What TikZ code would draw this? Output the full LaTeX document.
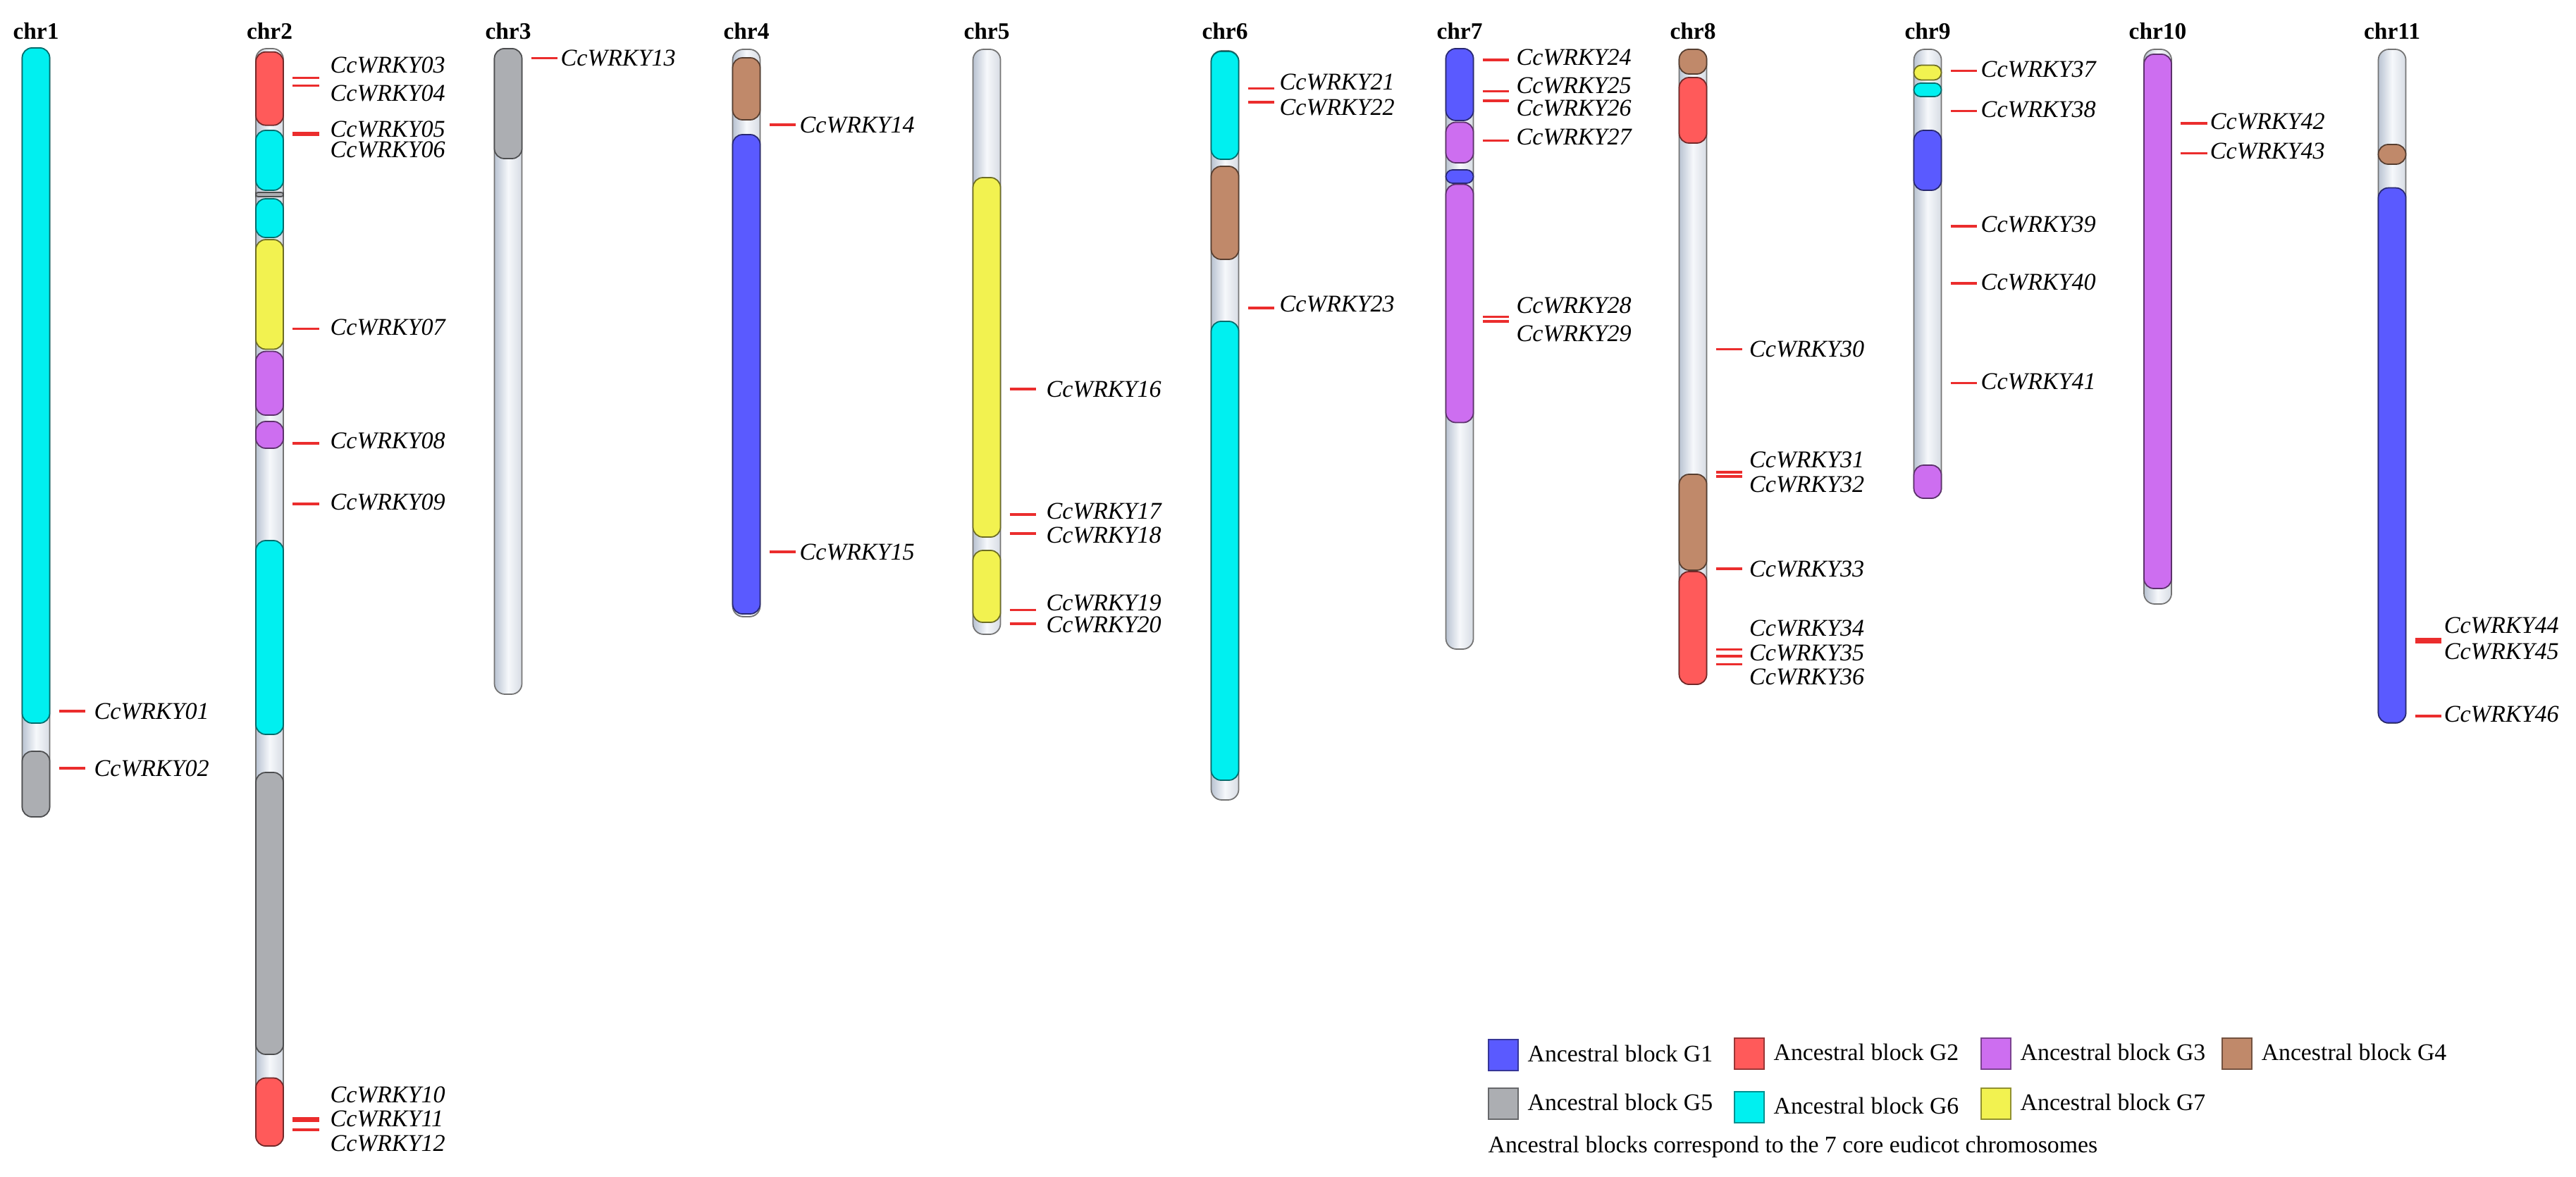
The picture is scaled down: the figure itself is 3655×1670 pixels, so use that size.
\documentclass[tikz,border=0pt]{standalone}
\usepackage{fontspec}
\setmainfont{Liberation Serif}
\definecolor{G1}{RGB}{90,90,255}
\definecolor{G2}{RGB}{255,90,90}
\definecolor{G3}{RGB}{205,110,240}
\definecolor{G4}{RGB}{192,137,106}
\definecolor{G5}{RGB}{172,174,178}
\definecolor{G6}{RGB}{0,240,240}
\definecolor{G7}{RGB}{242,242,80}
\definecolor{cL}{RGB}{185,195,210}
\definecolor{cM}{RGB}{246,248,251}
\definecolor{cR}{RGB}{215,220,228}
\definecolor{mred}{RGB}{235,45,45}
\begin{document}
\begin{tikzpicture}[x=0.01cm,y=-0.01cm,
  chrbar/.style={draw=black!55, line width=0.5pt, left color=cL, right color=cR, middle color=cM, rounded corners=0.15cm},
  blk/.style={line width=0.5pt},
  gmark/.style={draw=mred, line width=0.9pt},
  glabel/.style={font=\fontsize{9.7}{11}\selectfont\itshape, anchor=west, inner sep=0pt},
  chrlabel/.style={font=\fontsize{9.5}{11}\selectfont\bfseries, inner sep=0pt},
  legtext/.style={font=\fontsize{9.6}{11}\selectfont, anchor=west, inner sep=0pt},
  swatch/.style={line width=0.8pt, minimum width=0.42cm, minimum height=0.44cm, inner sep=0pt}
]
\useasboundingbox (0,0) rectangle (3655,1670);
% chromosomes
\foreach \n/\cx/\t/\b in {1/51/68/1159, 2/382.5/69/1626, 3/721/69/985, 4/1059/70/875,
  5/1400/70/900, 6/1738/72/1135, 7/2071/69/921, 8/2402/70/971, 9/2735/70/707,
  10/3061.5/70/857, 11/3394/70/1026}{
  \draw[chrbar] (\cx-19.5,\t) rectangle (\cx+19.5,\b);
  \node[chrlabel] (chr\n) at (\cx,44) {chr\n};
}
% ancestral blocks
\foreach \cx/\t/\b/\c in {
  51/68/1026/G6, 51/1066/1159/G5,
  382.5/73.7/177.7/G2, 382.5/185/270/G6, 382.5/273/279/G5, 382.5/282/337/G6,
  382.5/340/495.5/G7, 382.5/498.6/589/G3, 382.5/598/636/G3, 382.5/767/1042/G6,
  382.5/1096/1496/G5, 382.5/1529.5/1626/G2,
  721/69/225/G5,
  1059/82/170/G4, 1059/191/871/G1,
  1400/252/762/G7, 1400/781/883/G7,
  1738/73/226/G6, 1738/236/368/G4, 1738/456/1107/G6,
  2071/69/171/G1, 2071/173.5/231/G3, 2071/241/260/G1, 2071/261.5/599.5/G3,
  2402/70/105/G4, 2402/110/203/G2, 2402/673/809/G4, 2402/811/971/G2,
  2735/92.5/113.5/G7, 2735/118/137/G6, 2735/185/270/G1, 2735/660/707/G3,
  3061.5/77/835/G3,
  3394/205/233/G4, 3394/266.6/1025.6/G1}{
  \pgfmathsetmacro\rr{min(0.14,(\b-\t)/200)}
  \draw[blk, fill=\c, draw=\c!45!black, rounded corners=\rr cm] (\cx-19.5,\t) rectangle (\cx+19.5,\b);
}
% genes
\foreach \cx/\ly/\lx/\ty/\g in {
  51/1009/133/1009/01, 51/1090/133/1090/02,
  382.5/110.7/468/92.4/03, 382.5/121.4/468/132.6/04, 382.5/188.5/468/183/05,
  382.5/191.5/468/212/06, 382.5/466.5/468/464/07, 382.5/629/468/625/08,
  382.5/715/468/712/09, 382.5/1587/468/1553/10, 382.5/1590/468/1587/11,
  382.5/1603/468/1622/12,
  721/82.6/795/82.6/13,
  1059/177/1134/177/14, 1059/783/1134/783/15,
  1400/552/1484/552/16, 1400/730/1484/725/17, 1400/757/1484/759/18,
  1400/865.5/1484/855/19, 1400/885/1484/886.5/20,
  1738/125.6/1815/116/21, 1738/145/1815/152/22, 1738/437/1815/431/23,
  2071/85/2151/81.6/24, 2071/129.5/2151/121/25, 2071/143/2151/153/26,
  2071/199.6/2151/194.5/27, 2071/449.6/2151/433.7/28, 2071/456/2151/473/29,
  2402/495.6/2481.5/495.6/30, 2402/670/2481.5/652/31, 2402/676/2481.5/687/32,
  2402/807/2481.5/807/33, 2402/921.6/2481.5/891/34, 2402/931/2481.5/926/35,
  2402/942.7/2481.5/960/36,
  2735/100.8/2810/98/37, 2735/157.5/2810/155/38, 2735/321/2810/318/39,
  2735/402/2810/400/40, 2735/543.4/2810/541/41,
  3061.5/175/3135/172/42, 3061.5/217.5/3135/214/43,
  3394/907/3467/887/44, 3394/911/3467/924.6/45, 3394/1016/3467/1013.6/46}{
  \draw[gmark] (\cx+32.5,\ly) -- (\cx+70,\ly);
  \node[glabel] (g\g) at (\lx,\ty) {CcWRKY\g};
}
% legend
\foreach \i/\sx/\sy in {1/2133/1497, 2/2482/1495, 3/2832/1495, 4/3174/1495,
  5/2133/1566, 6/2482/1571, 7/2832/1566}{
  \node[swatch, fill=G\i, draw=G\i!60!black] (s\i) at (\sx,\sy) {};
  \node[legtext] (l\i) at (\sx+34,\sy-2) {Ancestral block G\i};
}
\node[legtext] (cap) at (2111,1627) {Ancestral blocks correspond to the 7 core eudicot chromosomes};
\end{tikzpicture}
\end{document}
